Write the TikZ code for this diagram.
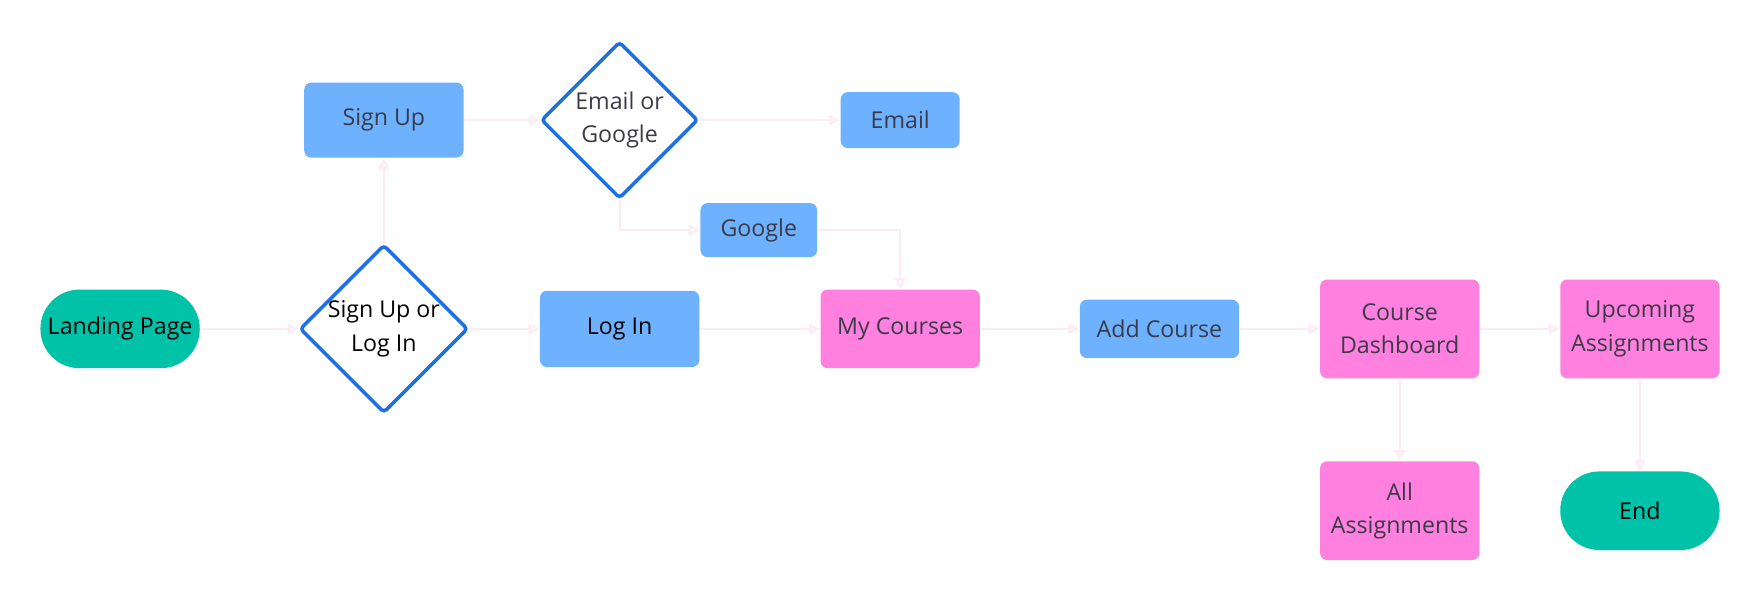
\documentclass[tikz,border=0pt]{standalone}
\usepackage{fontspec}
\setmainfont{Open Sans}
\usetikzlibrary{shapes.geometric,arrows.meta}
\definecolor{boxblue}{HTML}{6DB1FF}
\definecolor{boxpink}{HTML}{FF80DF}
\definecolor{termteal}{HTML}{00C2A8}
\definecolor{edgeblue}{HTML}{1E6FE0}
\definecolor{txt}{HTML}{3A3A48}
\definecolor{faint}{HTML}{FCEAF5}
\tikzset{
  base/.style={align=center, text=txt, inner sep=1pt, font=\fontsize{6.6}{9.5}\selectfont},
  action/.style={base, rectangle, rounded corners=2pt, fill=boxblue, minimum width=1.594cm},
  page/.style={base, rectangle, rounded corners=2pt, fill=boxpink, minimum width=1.594cm},
  term/.style={base, text=black, rectangle, rounded corners=0.39cm, fill=termteal, minimum width=1.594cm, minimum height=0.786cm},
  choice/.style={base, text=black, diamond, draw=edgeblue, line width=1pt, fill=white, minimum width=1.57cm, minimum height=1.57cm, inner sep=0pt, rounded corners=1pt},
  link/.style={faint, line width=0.6pt, -{Triangle[open,length=3pt,width=3pt]}}
}
\begin{document}
\begin{tikzpicture}[x=0.011225cm, y=-0.011225cm]
\useasboundingbox (0,0) rectangle (1568,536.3);

\node[term] (landing) at (107,293) {Landing Page};
\node[choice] (signorlog) at (342,293) {Sign Up or\\Log In};
\node[action, minimum height=0.75cm] (signup) at (342,107) {Sign Up};
\node[choice, text=txt] (emailorgoogle) at (552,107) {Email or\\Google};
\node[action, minimum width=1.19cm, minimum height=0.56cm] (email) at (802,107) {Email};
\node[action, minimum width=1.167cm, minimum height=0.54cm] (google) at (676,205) {Google};
\node[action, text=black, minimum height=0.763cm] (login) at (552,293) {Log In};
\node[page, minimum height=0.786cm] (courses) at (802,293) {My Courses};
\node[action, minimum height=0.584cm] (addcourse) at (1033,293) {Add Course};
\node[page, minimum height=0.988cm] (dashboard) at (1247,293) {Course\\Dashboard};
\node[page, minimum height=0.988cm] (upcoming) at (1461,293) {Upcoming\\Assignments};
\node[page, minimum height=0.988cm] (allassign) at (1247,455) {All\\Assignments};
\node[term] (end) at (1461,455) {End};

% faint connectors
\draw[link] (landing) -- (signorlog);
\draw[link] (signorlog) -- (signup);
\draw[link] (signorlog) -- (login);
\draw[link] (signup) -- (emailorgoogle);
\draw[link] (emailorgoogle) -- (email);
\draw[link] (emailorgoogle.south) |- (google);
\draw[link] (google) -| (courses);
\draw[link] (login) -- (courses);
\draw[link] (courses) -- (addcourse);
\draw[link] (addcourse) -- (dashboard);
\draw[link] (dashboard) -- (upcoming);
\draw[link] (dashboard) -- (allassign);
\draw[link] (upcoming) -- (end);

\end{tikzpicture}
\end{document}
